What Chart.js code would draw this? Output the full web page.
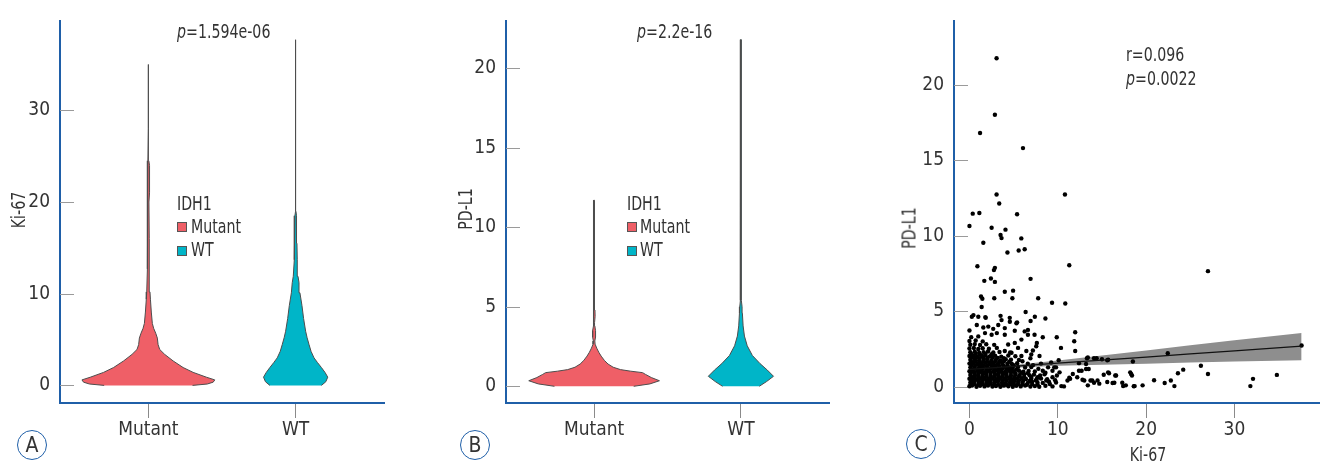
<!DOCTYPE html>
<html>
<head>
<meta charset="utf-8">
<script src="https://cdn.jsdelivr.net/npm/chart.js@4.4.1/dist/chart.umd.min.js"></script>
<style>
  body { margin: 0; background: #fff; }
  #fig { position: relative; width: 1323px; height: 463px; overflow: hidden; color: #333;
         font-family: 'DejaVu Sans Condensed', 'DejaVu Sans', sans-serif; }
  .panel { position: absolute; top: 0; height: 463px; }
  .txt { position: absolute; font-size: 19px; line-height: 19px; white-space: nowrap;
         transform: scaleX(0.83); transform-origin: 0 0; }
  .box { position: absolute; width: 8px; height: 8px; border: 1px solid #555; }
  .ytitle { position: absolute; font-size: 19px; line-height: 19px; white-space: nowrap;
            transform: translate(-50%, -50%) rotate(-90deg) scaleX(0.83); }
  .xtitle { position: absolute; font-size: 19px; line-height: 19px; white-space: nowrap;
            transform: translateX(-50%) scaleX(0.83); }
  .tag { position: absolute; width: 28px; height: 28px; border: 1.5px solid #1f5fa8; border-radius: 50%;
         text-align: center; line-height: 28px; font-size: 21px; transform: translate(-50%, -50%); }
</style>
</head>
<body>
<div id="fig">
  <div class="panel" style="left:0;width:440px"><canvas id="chartA"></canvas></div>
  <div class="panel" style="left:440px;width:440px"><canvas id="chartB"></canvas></div>
  <div class="panel" style="left:880px;width:443px"><canvas id="chartC"></canvas></div>

  <div class="txt" style="left:177px;top:22px"><i>p</i>=1.594e-06</div>
  <div class="txt" style="left:637px;top:22px"><i>p</i>=2.2e-16</div>
  <div class="txt" style="left:1126px;top:45px">r=0.096</div>
  <div class="txt" style="left:1126px;top:69px"><i>p</i>=0.0022</div>

  <div class="txt" style="left:177px;top:194px">IDH1</div>
  <div class="box" style="left:177px;top:222px;background:#ef5f67"></div>
  <div class="txt" style="left:191px;top:217px">Mutant</div>
  <div class="box" style="left:177px;top:246px;background:#00b5c8"></div>
  <div class="txt" style="left:191px;top:240px">WT</div>

  <div class="txt" style="left:627px;top:194px">IDH1</div>
  <div class="box" style="left:627px;top:222px;background:#ef5f67"></div>
  <div class="txt" style="left:640px;top:217px">Mutant</div>
  <div class="box" style="left:627px;top:246px;background:#00b5c8"></div>
  <div class="txt" style="left:640px;top:240px">WT</div>

  <div class="ytitle" style="left:18px;top:210px">Ki-67</div>
  <div class="ytitle" style="left:465px;top:209px">PD-L1</div>
  <div class="ytitle" style="left:909px;top:228px">PD-L1</div>
  <div class="xtitle" style="left:1148px;top:445px">Ki-67</div>

  <div class="tag" style="left:32px;top:445px">A</div>
  <div class="tag" style="left:475px;top:445px">B</div>
  <div class="tag" style="left:921px;top:444px">C</div>
</div>

<script>
const categories = ['Mutant', 'WT'];
const categoryPositions = [1, 2];

// violin outlines: value levels and half widths (in category units)
const ki67MutantLevels = [0, 0.15, 0.35, 0.6, 0.89, 1.42, 1.95, 2.67, 3.38, 3.92, 4.45, 5.16, 5.69, 6.22, 6.76, 8.0, 9.4, 10.2, 12.7, 16, 20, 21, 22.5, 24, 24.5, 28, 35];
const ki67MutantWidths = [0.30, 0.40, 0.44, 0.451, 0.395, 0.304, 0.236, 0.168, 0.111, 0.077, 0.066, 0.061, 0.05, 0.036, 0.027, 0.020, 0.014, 0.011, 0.007, 0.005, 0.004, 0.008, 0.009, 0.007, 0.003, 0.002, 0.002];
const ki67WtLevels = [0, 0.4, 0.9, 1.4, 1.95, 2.5, 3.0, 3.7, 4.45, 5.2, 5.9, 7.3, 8.7, 10.1, 11.2, 11.9, 13.7, 15.5, 17.3, 18.5, 19, 25, 37.7];
const ki67WtWidths = [0.175, 0.205, 0.218, 0.2, 0.175, 0.148, 0.125, 0.105, 0.091, 0.078, 0.068, 0.054, 0.043, 0.029, 0.023, 0.016, 0.011, 0.009, 0.007, 0.005, 0.002, 0.002, 0.002];
const pdl1MutantLevels = [0, 0.15, 0.35, 0.55, 0.75, 0.86, 0.95, 1.05, 1.2, 1.4, 1.63, 1.9, 2.14, 2.4, 2.65, 2.85, 3.1, 3.5, 3.8, 4.0, 4.4, 4.8, 5.1, 6.0, 6.4, 6.8, 11.7];
const pdl1MutantWidths = [0.27, 0.38, 0.445, 0.39, 0.35, 0.33, 0.25, 0.18, 0.13, 0.095, 0.07, 0.048, 0.032, 0.018, 0.007, 0.005, 0.01, 0.01, 0.005, 0.003, 0.007, 0.006, 0.003, 0.003, 0.004, 0.002, 0.002];
const pdl1WtLevels = [0, 0.3, 0.63, 1.02, 1.43, 1.94, 2.55, 3.16, 3.8, 4.6, 5.0, 5.4, 7.5, 8.0, 10.6, 11.0, 21.8];
const pdl1WtWidths = [0.125, 0.175, 0.222, 0.18, 0.13, 0.078, 0.043, 0.024, 0.015, 0.01, 0.008, 0.003, 0.003, 0.005, 0.005, 0.002, 0.002];

const ki67Ticks = [0, 10, 20, 30];
const pdl1Ticks = [0, 5, 10, 15, 20];
const scatterXTicks = [0, 10, 20, 30];
const scatterYTicks = [0, 5, 10, 15, 20];

// scatter: [Ki-67, PD-L1]
const scatterPairs = [
  [3.07,21.77],[2.88,18.03],[1.2,16.82],[6.06,15.82],[3.07,12.75],[10.81,12.75],[3.37,12.15],[5.39,11.44],
  [0.37,11.48],[1.12,11.52],[0,10.66],[2.51,10.55],[4.08,10.42],[3.52,10.07],[3.63,9.86],[5.87,9.84],
  [1.57,9.55],[6.25,9.12],[5.57,9.04],[4.3,8.91],[11.3,8.06],[0.9,8.0],[2.88,7.89],[2.77,7.74],[27.0,7.67],
  [2.43,7.18],[6.92,7.16],[1.68,7.03],[2.88,6.96],[4.0,6.31],[4.94,6.38],[4.86,5.88],[1.31,5.99],[1.46,5.84],
  [2.81,5.88],[7.78,5.88],[9.35,5.58],[10.85,5.53],[1.38,5.3],[6.36,4.97],[0.45,4.76],[1.8,4.63],[3.52,4.71],
  [4.56,4.58],[8.6,4.54],[5.39,4.28],[6.92,4.37],[0,3.74],[6.62,3.78],[11.97,3.63],[9.88,3.29],[11.86,3.03],
  [7.63,2.92],[10.36,2.59],[11.97,2.38],[22.45,2.23],[37.6,2.75],[26.2,1.41],[27.0,0.86],[34.8,0.80],
  [32.1,0.54],[31.8,0.06],[24.2,1.15],[23.6,0.91],[22.8,0.43],[23.2,0.06],[22.1,0.26],[20.9,0.45],[19.6,0.11],
  [18.7,0.06],[18.5,1.69],[18.3,0.86],[17.7,0.11],[17.4,0.06],[16.6,0.76],[16.2,0.26],[15.7,0.97],[15.6,1.77],
  [15.0,1.84],[14.4,1.9],[13.4,1.95],[13.2,1.19],[14.7,0.22],[13.9,0.43],[12.8,0.48],[12.4,1.08],[11.7,0.86],
  [11.4,0.54],[10.7,0.04],[10.4,0.06],[10.1,1.77],[9.4,1.08],
  [12.4,1.58],[13.3,1.9],[14.1,1.9],[15.7,1.8],[13.2,1.52],[13.5,1.19],[12.7,1.08],[18.2,0.97],[18.4,0.76],
  [18.6,0.05],[17.3,0.28],[16.5,0.76],[15.8,0.91],[16.4,0.28],[15.6,0.33],[15.2,0.81],[14.5,0.43],[14.1,0.28],
  [13.7,0.43],[13.4,0.11],[13.0,0.43],[12.2,0.65],[11.3,0.61],[11.1,0.43],[9.9,0.76],[9.8,1.3],[10.2,0.97],
  [7.7,0.65],[8.3,1.08],[8.9,1.3],[8.7,0.43],[9.4,0.65],
  [0.27,4.65],[1.0,4.65],[1.84,4.58],[3.63,4.43],[4.57,4.32],[5.32,4.22],[7.4,4.65],[0.83,4.11],[1.57,3.94],
  [2.13,4.0],[2.69,3.85],[3.26,4.11],[4.0,3.9],[1.76,3.57],[2.51,3.46],[3.1,3.57],[4.0,3.46],[5.13,3.72],
  [6.25,3.68],[6.62,3.46],[7.37,3.46],[8.3,3.29],[5.88,3.14],[5.13,2.92],[4.38,2.81],[5.5,2.59],[6.44,2.38],
  [7.18,2.42],[7.56,2.7],[4.0,2.38],[4.76,2.27],[5.88,2.05],[7.0,2.16],[7.93,2.05],[9.25,1.62],[9.6,1.3],
  [6.0,1.7],[7.2,1.45],[7.8,1.2],[8.1,1.55],[6.9,1.9],[8.6,0.95],[9.1,0.2],[9.7,0.45],
  [0,0.05],[0.3,0.1],[0.8,0.02],[1.2,0.08],[1.7,0.04],[2.1,0.1],[2.6,0.03],[3.0,0.07],[3.5,0.02],[3.9,0.09],
  [4.4,0.05],[4.9,0.02],[5.3,0.08],[5.8,0.04],[6.3,0.1],[6.9,0.03],[7.4,0.06],[7.9,0.02],[8.6,0.08],[9.4,0.04],
  [0.15,0.18],[0.55,0.2],[1.0,0.16],[1.45,0.19],[1.9,0.17],[2.35,0.21],[2.8,0.18],[3.25,0.16],[3.7,0.2],
  [4.15,0.17],[4.6,0.19],[5.05,0.16],[5.5,0.2],[6.0,0.18],[6.5,0.15],[7.1,0.19],[7.7,0.17],
  [0.1,0.3],[0.5,0.28],[1.0,0.34],[1.4,0.3],[1.9,0.26],[2.3,0.33],[2.8,0.29],[3.2,0.35],[3.7,0.3],[4.1,0.27],
  [4.6,0.32],[5.0,0.29],[5.5,0.34],[6.0,0.3],[6.6,0.26],[7.1,0.33],[7.7,0.3],[8.3,0.27],[9.0,0.35],[9.8,0.3],
  [0.2,0.43],[0.6,0.45],[1.05,0.41],[1.5,0.44],[1.95,0.42],[2.4,0.46],[2.85,0.43],[3.3,0.41],[3.75,0.45],
  [4.2,0.42],[4.65,0.44],[5.1,0.41],[5.6,0.45],[6.1,0.43],[6.8,0.4],[7.5,0.44],
  [0,0.55],[0.4,0.58],[0.8,0.52],[1.3,0.56],[1.7,0.6],[2.2,0.53],[2.6,0.57],[3.1,0.51],[3.5,0.58],[4.0,0.55],
  [4.5,0.6],[4.9,0.52],[5.4,0.56],[5.9,0.59],[6.4,0.53],[7.0,0.57],[7.6,0.5],[8.1,0.56],[8.8,0.52],
  [0.2,0.68],[0.6,0.7],[1.05,0.66],[1.5,0.69],[1.95,0.67],[2.4,0.71],[2.85,0.68],[3.3,0.66],[3.75,0.7],
  [4.2,0.67],[4.65,0.69],[5.1,0.66],[5.6,0.7],[6.2,0.68],[7.0,0.66],
  [0.1,0.8],[0.6,0.83],[1.0,0.77],[1.5,0.81],[1.9,0.85],[2.4,0.78],[2.9,0.82],[3.3,0.76],[3.8,0.84],[4.2,0.8],
  [4.7,0.77],[5.2,0.83],[5.7,0.79],[6.2,0.85],[6.8,0.78],[7.3,0.82],[8.0,0.76],[8.5,0.84],
  [0.15,0.93],[0.6,0.95],[1.05,0.91],[1.5,0.94],[1.95,0.92],[2.4,0.96],[2.85,0.93],[3.3,0.91],[3.75,0.95],
  [4.2,0.92],[4.7,0.94],[5.2,0.91],[5.9,0.95],[6.6,0.92],
  [0,1.05],[0.4,1.02],[0.9,1.08],[1.3,1.04],[1.8,1.0],[2.2,1.07],[2.7,1.03],[3.1,1.09],[3.6,1.05],[4.1,1.01],
  [4.5,1.07],[5.0,1.04],[5.6,1.08],[6.1,1.02],[6.7,1.06],[7.4,1.03],
  [0.2,1.18],[0.6,1.2],[1.05,1.16],[1.5,1.19],[1.95,1.17],[2.4,1.21],[2.85,1.18],[3.3,1.16],[3.75,1.2],
  [4.2,1.17],[4.7,1.19],[5.3,1.16],
  [0.1,1.3],[0.6,1.33],[1.1,1.27],[1.5,1.31],[2.0,1.35],[2.5,1.28],[2.9,1.32],[3.4,1.26],[3.9,1.34],[4.4,1.3],
  [4.9,1.27],[5.5,1.33],[6.3,1.29],[7.0,1.32],
  [0.2,1.43],[0.65,1.45],[1.1,1.41],[1.55,1.44],[2.0,1.42],[2.45,1.46],[2.9,1.43],[3.35,1.41],[3.8,1.45],
  [4.3,1.42],[5.0,1.44],
  [0,1.55],[0.4,1.58],[0.9,1.52],[1.3,1.56],[1.8,1.6],[2.3,1.53],[2.7,1.57],[3.2,1.51],[3.7,1.59],[4.3,1.55],
  [4.8,1.52],[5.4,1.58],[6.6,1.54],
  [0.2,1.68],[0.65,1.7],[1.1,1.66],[1.55,1.69],[2.0,1.67],[2.45,1.71],[2.9,1.68],[3.35,1.66],[3.9,1.7],[4.5,1.67],
  [0.1,1.8],[0.6,1.83],[1.1,1.77],[1.6,1.81],[2.0,1.85],[2.5,1.78],[3.0,1.82],[3.5,1.76],[4.1,1.84],[4.7,1.8],[5.6,1.79],
  [0.2,1.93],[0.65,1.95],[1.1,1.91],[1.55,1.94],[2.05,1.92],[2.6,1.96],[3.2,1.93],[3.9,1.91],
  [0,2.05],[0.4,2.08],[0.9,2.02],[1.4,2.06],[1.8,2.1],[2.3,2.03],[2.9,2.07],[3.6,2.01],[4.4,2.09],[5.2,2.04],
  [0.2,2.18],[0.7,2.2],[1.2,2.16],[1.8,2.19],[2.5,2.17],
  [0.1,2.3],[0.6,2.33],[1.1,2.27],[1.6,2.31],[2.1,2.35],[2.7,2.28],[3.4,2.32],[4.6,2.29],
  [0,2.55],[0.5,2.58],[1.0,2.52],[1.5,2.57],[2.2,2.53],[3.1,2.59],
  [0.1,2.8],[0.6,2.84],[1.2,2.78],[1.9,2.83],[2.8,2.79],
  [0,3.05],[0.7,3.08],[1.5,3.02],[0.2,3.3],[1.0,3.35]
];

// linear fit and its confidence band
const fitKi67 = [0, 5, 10, 15, 20, 25, 30, 37.6];
const fitLine = [1.17, 1.37, 1.58, 1.78, 1.98, 2.19, 2.39, 2.70];
const fitUpper = [1.30, 1.46, 1.76, 2.09, 2.42, 2.76, 3.10, 3.58];
const fitLower = [1.04, 1.28, 1.40, 1.47, 1.54, 1.62, 1.68, 1.77];

const axisBlue = '#1f5fa8';
const mutantColor = '#ef5f67';
const wtColor = '#00b5c8';
const tickFont = { size: 19 };

Chart.defaults.font.family = "'DejaVu Sans Condensed', 'DejaVu Sans', sans-serif";
Chart.defaults.color = '#333';
Chart.defaults.animation = false;
Chart.defaults.plugins.legend.display = false;
Chart.defaults.plugins.tooltip.enabled = false;

const insideTicks = {
  id: 'insideTicks',
  beforeDatasetsDraw(chart) {
    const { ctx, chartArea, scales: { y } } = chart;
    ctx.save();
    ctx.strokeStyle = '#9a9a9a';
    ctx.lineWidth = 1;
    y.ticks.forEach(t => {
      const py = Math.round(y.getPixelForValue(t.value)) + 0.5;
      ctx.beginPath();
      ctx.moveTo(chartArea.left, py);
      ctx.lineTo(chartArea.left + 14, py);
      ctx.stroke();
    });
    ctx.restore();
  }
};

function violinPoints(center, levels, widths) {
  const right = levels.map((v, i) => ({ x: center + widths[i], y: v }));
  const left = levels.map((v, i) => ({ x: center - widths[i], y: v })).reverse();
  return right.concat(left);
}

function violinDataset(label, points, color) {
  return {
    label: label,
    data: points,
    showLine: true,
    fill: 'shape',
    clip: false,
    tension: 0,
    pointRadius: 0,
    borderColor: '#4d4d4d',
    borderWidth: 1,
    backgroundColor: color
  };
}

function xAxis(min, max, tickValues, labelFn, height) {
  return {
    type: 'linear',
    min: min,
    max: max,
    afterBuildTicks: s => { s.ticks = tickValues.map(v => ({ value: v })); },
    afterFit: s => { s.height = height; },
    ticks: { callback: labelFn, font: tickFont, padding: 1, maxRotation: 0, autoSkip: false },
    grid: { drawOnChartArea: false, drawTicks: true, tickLength: 15, color: '#8a8a8a' },
    border: { color: axisBlue, width: 2 }
  };
}

function yAxis(min, max, tickValues, width) {
  return {
    type: 'linear',
    min: min,
    max: max,
    afterBuildTicks: s => { s.ticks = tickValues.map(v => ({ value: v })); },
    afterFit: s => { s.width = width; },
    ticks: { font: tickFont, padding: 10 },
    grid: { display: false, drawTicks: false, tickLength: 0 },
    border: { color: axisBlue, width: 2 }
  };
}

function violinChart(id, mutLevels, mutWidths, wtLevels, wtWidths, yMin, yMax, yTicks, leftWidth, rightPad) {
  new Chart(document.getElementById(id), {
    type: 'scatter',
    data: {
      datasets: [
        violinDataset(categories[0], violinPoints(categoryPositions[0], mutLevels, mutWidths), mutantColor),
        violinDataset(categories[1], violinPoints(categoryPositions[1], wtLevels, wtWidths), wtColor)
      ]
    },
    options: {
      responsive: true,
      maintainAspectRatio: false,
      layout: { padding: { top: 13, right: rightPad, left: 0, bottom: 0 } },
      scales: {
        x: xAxis(0.4, 2.6, categoryPositions, v => categories[v - 1], 60),
        y: yAxis(yMin, yMax, yTicks, leftWidth)
      }
    },
    plugins: [insideTicks]
  });
}

violinChart('chartA', ki67MutantLevels, ki67MutantWidths, ki67WtLevels, ki67WtWidths, -1.92, 39.7, ki67Ticks, 60, 56);
violinChart('chartB', pdl1MutantLevels, pdl1MutantWidths, pdl1WtLevels, pdl1WtWidths, -1.05, 22.95, pdl1Ticks, 66, 51);

new Chart(document.getElementById('chartC'), {
  type: 'scatter',
  data: {
    datasets: [
      {
        label: 'fit',
        data: fitKi67.map((x, i) => ({ x: x, y: fitLine[i] })),
        showLine: true,
        pointRadius: 0,
        borderColor: '#111',
        borderWidth: 1.2,
        order: 0
      },
      {
        label: 'samples',
        data: scatterPairs.map(p => ({ x: p[0], y: p[1] })),
        pointRadius: 2.2,
        pointBorderWidth: 0,
        backgroundColor: '#000',
        order: 1
      },
      {
        label: 'upper',
        data: fitKi67.map((x, i) => ({ x: x, y: fitUpper[i] })),
        showLine: true,
        pointRadius: 0,
        borderWidth: 0,
        fill: '+1',
        backgroundColor: '#8e8e8e',
        order: 2
      },
      {
        label: 'lower',
        data: fitKi67.map((x, i) => ({ x: x, y: fitLower[i] })),
        showLine: true,
        pointRadius: 0,
        borderWidth: 0,
        fill: false,
        order: 3
      }
    ]
  },
  options: {
    responsive: true,
    maintainAspectRatio: false,
    layout: { padding: { top: 13, right: 1, left: 0, bottom: 0 } },
    scales: {
      x: xAxis(-1.75, 39.57, scatterXTicks, v => v, 60),
      y: yAxis(-1.06, 24.21, scatterYTicks, 74)
    }
  },
  plugins: [insideTicks]
});
</script>
</body>
</html>
